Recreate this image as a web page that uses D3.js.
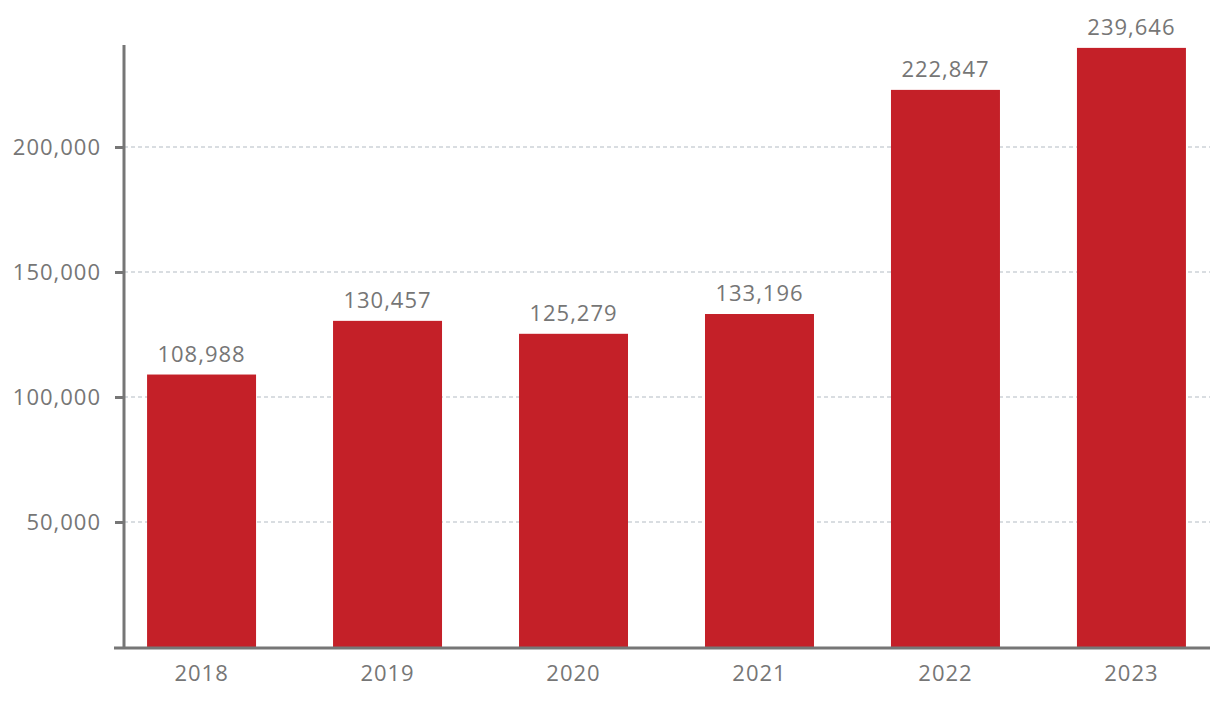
<!DOCTYPE html>
<html><head><meta charset="utf-8">
<script src="https://cdn.jsdelivr.net/npm/d3@7"></script>
<style>body{margin:0;background:#fff;} svg{display:block;font-family:"Open Sans",sans-serif;} text{letter-spacing:1px;}</style>
</head><body>
<svg id="c" width="1220" height="702"></svg>
<script>
const categories = ["2018","2019","2020","2021","2022","2023"];
const values = [108988,130457,125279,133196,222847,239646];
const yTicks = [50000,100000,150000,200000];

const svg = d3.select("#c");
const x0 = 124, x1 = 1209, yBase = 647;
const x = d3.scaleBand().domain(categories).range([x0, x1]).paddingInner(0.414).paddingOuter(0.124);
const y = d3.scaleLinear().domain([0, 240000]).range([yBase, yBase - 600]);
const grey = "#767676";
const fmt = d3.format(",");
const ff = "'Open Sans', sans-serif";

// gridlines
svg.append("g").selectAll("line").data(yTicks).join("line")
  .attr("x1", x0).attr("x2", 1210)
  .attr("y1", d => y(d)).attr("y2", d => y(d))
  .attr("stroke", "#b3bcc4").attr("stroke-width", 1.2).attr("stroke-dasharray", "4,3");

// bars
svg.append("g").selectAll("rect").data(values).join("rect")
  .attr("x", (d,i) => x(categories[i])).attr("width", x.bandwidth())
  .attr("y", d => y(d)).attr("height", d => yBase - y(d))
  .attr("fill", "#c42028");

// value labels
svg.append("g").selectAll("text").data(values).join("text")
  .attr("x", (d,i) => x(categories[i]) + x.bandwidth()/2)
  .attr("y", d => y(d) - 13)
  .attr("text-anchor", "middle").attr("fill", grey)
  .attr("font-size", 22).attr("font-family", ff).text(d => fmt(d));

// y axis
const yAxis = d3.axisLeft(y).tickValues(yTicks).tickFormat(fmt).tickSize(9).tickPadding(14);
const ya = svg.append("g").attr("transform", `translate(${x0},0)`).call(yAxis);
ya.select(".domain").remove();
ya.selectAll(".tick line").attr("stroke", grey).attr("stroke-width", 3);
ya.selectAll(".tick text").attr("fill", grey).attr("font-size", 22).attr("font-family", ff);
svg.append("line").attr("x1", x0).attr("x2", x0).attr("y1", 45).attr("y2", yBase + 2)
  .attr("stroke", grey).attr("stroke-width", 3);

// x axis
const xAxis = d3.axisBottom(x).tickSize(0).tickPadding(17);
const xa = svg.append("g").attr("transform", `translate(0,${yBase+1})`).call(xAxis);
xa.select(".domain").remove();
xa.selectAll(".tick text").attr("fill", grey).attr("font-size", 22).attr("font-family", ff);
svg.append("line").attr("x1", 114).attr("x2", 1210).attr("y1", yBase + 1).attr("y2", yBase + 1)
  .attr("stroke", grey).attr("stroke-width", 3);
</script>
</body></html>
